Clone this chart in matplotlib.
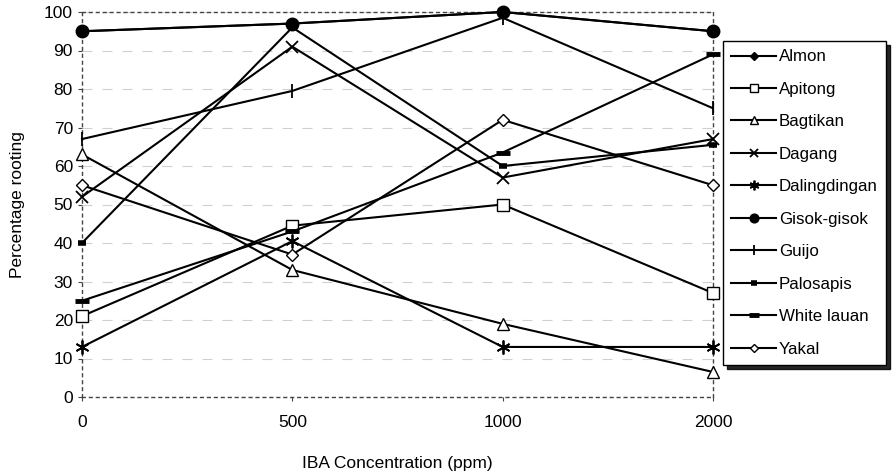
import matplotlib.pyplot as plt

plt.rcParams['font.family'] = ['Liberation Sans', 'DejaVu Sans']

concentrations = ['0', '500', '1000', '2000']
almon = [95, 97, 100, 95]
apitong = [21, 44.5, 50, 27]
bagtikan = [63, 33, 19, 6.5]
dagang = [52, 91, 57, 67]
dalingdingan = [13, 40.5, 13, 13]
gisok_gisok = [95, 97, 100, 95]
guijo = [67, 79.5, 98.5, 75]
palosapis = [40, 96, 60, 65.5]
white_lauan = [25, 43, 63.5, 89]
yakal = [55, 37, 72, 55]

series = [
    ('Almon', almon, dict(marker='D', ms=6, mfc='black')),
    ('Apitong', apitong, dict(marker='s', ms=8, mfc='white')),
    ('Bagtikan', bagtikan, dict(marker='^', ms=8, mfc='white')),
    ('Dagang', dagang, dict(marker='x', ms=9, mew=1.3)),
    ('Dalingdingan', dalingdingan, dict(marker=(6, 2, 0), ms=10, mew=1.3)),
    ('Gisok-gisok', gisok_gisok, dict(marker='o', ms=9, mfc='black')),
    ('Guijo', guijo, dict(marker='|', ms=10, mew=1.3)),
    ('Palosapis', palosapis, dict(marker='_', ms=6, mew=4)),
    ('White lauan', white_lauan, dict(marker='_', ms=10, mew=3.5)),
    ('Yakal', yakal, dict(marker='D', ms=6, mfc='white')),
]

fig = plt.figure(figsize=(8.93, 4.75), dpi=100)
ax = fig.add_axes([82 / 893, 1 - 397 / 475, (713 - 82) / 893, (397 - 12) / 475])

x = range(len(concentrations))
for name, vals, style in series:
    ax.plot(x, vals, color='black', lw=1.5, mec='black', label=name,
            clip_on=False, zorder=3, **style)

ax.set_xlim(0, 3)
ax.set_ylim(0, 100)
ax.set_xticks(list(x))
ax.set_xticklabels(concentrations)
ax.set_yticks(range(0, 101, 10))
ax.tick_params(labelsize=12.5, length=3, color='#444444')
ax.tick_params(axis='x', pad=10)
ax.yaxis.grid(True, color='#d0d0d0', linestyle=(0, (9, 9)), lw=0.8)
for s in ax.spines.values():
    s.set_linestyle((0, (2, 3)))
    s.set_color('#444444')
    s.set_linewidth(1.0)

ax.set_xlabel('IBA Concentration (ppm)', fontsize=12.5, labelpad=19)
ax.set_ylabel('Percentage rooting', fontsize=12.5, labelpad=14)

leg = fig.legend(loc='upper left', bbox_to_anchor=(723 / 893, 1 - 41 / 475),
                 frameon=True, fancybox=False,
                 shadow={'color': 'black', 'alpha': 0.85, 'ox': 3, 'oy': -3},
                 edgecolor='black',
                 fontsize=12.2, handlelength=2.6, labelspacing=1.03,
                 borderpad=0.5, handletextpad=0.2, borderaxespad=0)
leg.get_frame().set_linewidth(1.0)
for h in leg.legend_handles:
    h.set_markersize(h.get_markersize() * 0.7)

fig.savefig('out.png', dpi=100)
